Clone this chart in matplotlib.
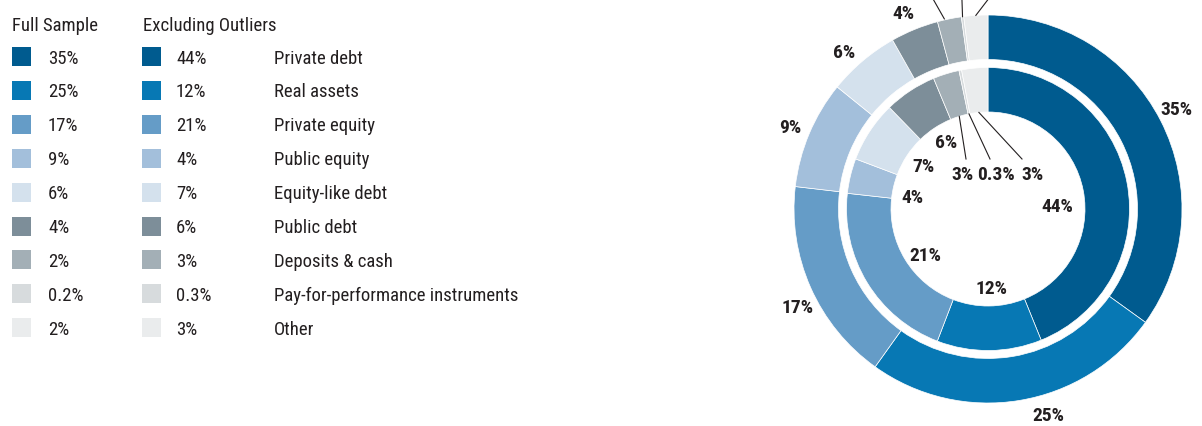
import numpy as np
import matplotlib.pyplot as plt
from matplotlib.patches import Rectangle

categories = ["Private debt", "Real assets", "Private equity", "Public equity",
              "Equity-like debt", "Public debt", "Deposits & cash",
              "Pay-for-performance instruments", "Other"]
full_sample = [35, 25, 17, 9, 6, 4, 2, 0.2, 2]
excl_outliers = [44, 12, 21, 4, 7, 6, 3, 0.3, 3]
full_labels = ["35%", "25%", "17%", "9%", "6%", "4%", "2%", "0.2%", "2%"]
excl_labels = ["44%", "12%", "21%", "4%", "7%", "6%", "3%", "0.3%", "3%"]
colors = ["#005b8f", "#0778b4", "#659cc7", "#a3bfdb", "#d4e1ed",
          "#7d8e99", "#a3afb6", "#d7dbdd", "#eaeced"]

TEXT = "#231f20"
plt.rcParams["font.family"] = ["Roboto Condensed", "Open Sans Condensed",
                               "Liberation Sans Narrow", "DejaVu Sans"]
plt.rcParams["font.stretch"] = "condensed"

W, H = 1202, 426
fig = plt.figure(figsize=(W / 100, H / 100), dpi=100)
ax = fig.add_axes([0, 0, 1, 1])

# donut geometry, in pixels (y measured from the bottom)
cx, cy = 988, 217
r_out, r_out_in = 194, 149.5
r_in, r_in_in = 141.5, 97

outer, _ = ax.pie(full_sample, radius=r_out, center=(cx, cy), startangle=90,
                  counterclock=False, colors=colors,
                  wedgeprops=dict(width=r_out - r_out_in, edgecolor="white",
                                  linewidth=0.5))
inner, _ = ax.pie(excl_outliers, radius=r_in, center=(cx, cy), startangle=90,
                  counterclock=False, colors=colors,
                  wedgeprops=dict(width=r_in - r_in_in, edgecolor="white",
                                  linewidth=0.5))

def mid_angle(w, nudge=0):
    return np.deg2rad((w.theta1 + w.theta2) / 2 + nudge)

lab_kw = dict(ha="center", va="center_baseline", fontsize=14,
              fontweight="bold", color=TEXT)

# outer ring labels
out_nudge = [1, 7, 3, 0, 2, 1]
for i, w in enumerate(outer):
    if i < 6:
        a = mid_angle(w, out_nudge[i])
        ax.text(cx + 214 * np.cos(a), cy + 214 * np.sin(a), full_labels[i], **lab_kw)
    else:
        # small slices: leader lines running off the top
        a = mid_angle(w)
        x0, y0 = cx + r_out * np.cos(a), cy + r_out * np.sin(a)
        dx = [-22, -1, 23][i - 6]
        ax.plot([x0 - [5, 0, 0][i - 6], x0 + dx], [y0, y0 + 30], color=TEXT, lw=0.8)

# inner ring labels (inside the hole)
in_nudge = [-8, 2, 4, 4, -1, -2]
in_rad = [69, 78, 77, 77, 78, 80]
for i, w in enumerate(inner):
    if i < 6:
        a = mid_angle(w, in_nudge[i])
        r = in_rad[i]
        ax.text(cx + r * np.cos(a), cy + r * np.sin(a), excl_labels[i], **lab_kw)
    else:
        a = mid_angle(w)
        lx = cx + [-26, 8, 44][i - 6]
        ly = cy + 36
        x0, y0 = cx + r_in_in * np.cos(a), cy + r_in_in * np.sin(a)
        ax.plot([x0, lx + [4, -6, -10][i - 6]], [y0, ly + 14], color=TEXT, lw=0.8)
        ax.text(lx, ly, excl_labels[i], **lab_kw)

# legend table on the left
leg_kw = dict(fontsize=13.5, color=TEXT, va="baseline")
ax.text(12, H - 31, "Full Sample", **leg_kw)
ax.text(143, H - 31, "Excluding Outliers", **leg_kw)
for i, name in enumerate(categories):
    yc = H - (56.5 + 33.9 * i)
    ax.add_patch(Rectangle((12, yc - 9.5), 19, 19, color=colors[i], lw=0))
    ax.add_patch(Rectangle((142, yc - 9.5), 19, 19, color=colors[i], lw=0))
    ax.text(48, yc - 7, full_labels[i], **leg_kw)
    ax.text(176, yc - 7, excl_labels[i], **leg_kw)
    ax.text(274, yc - 7, name, **leg_kw)

ax.set_xlim(0, W)
ax.set_ylim(0, H)
ax.set_aspect("equal")
ax.axis("off")

fig.savefig("out.png", dpi=100)
